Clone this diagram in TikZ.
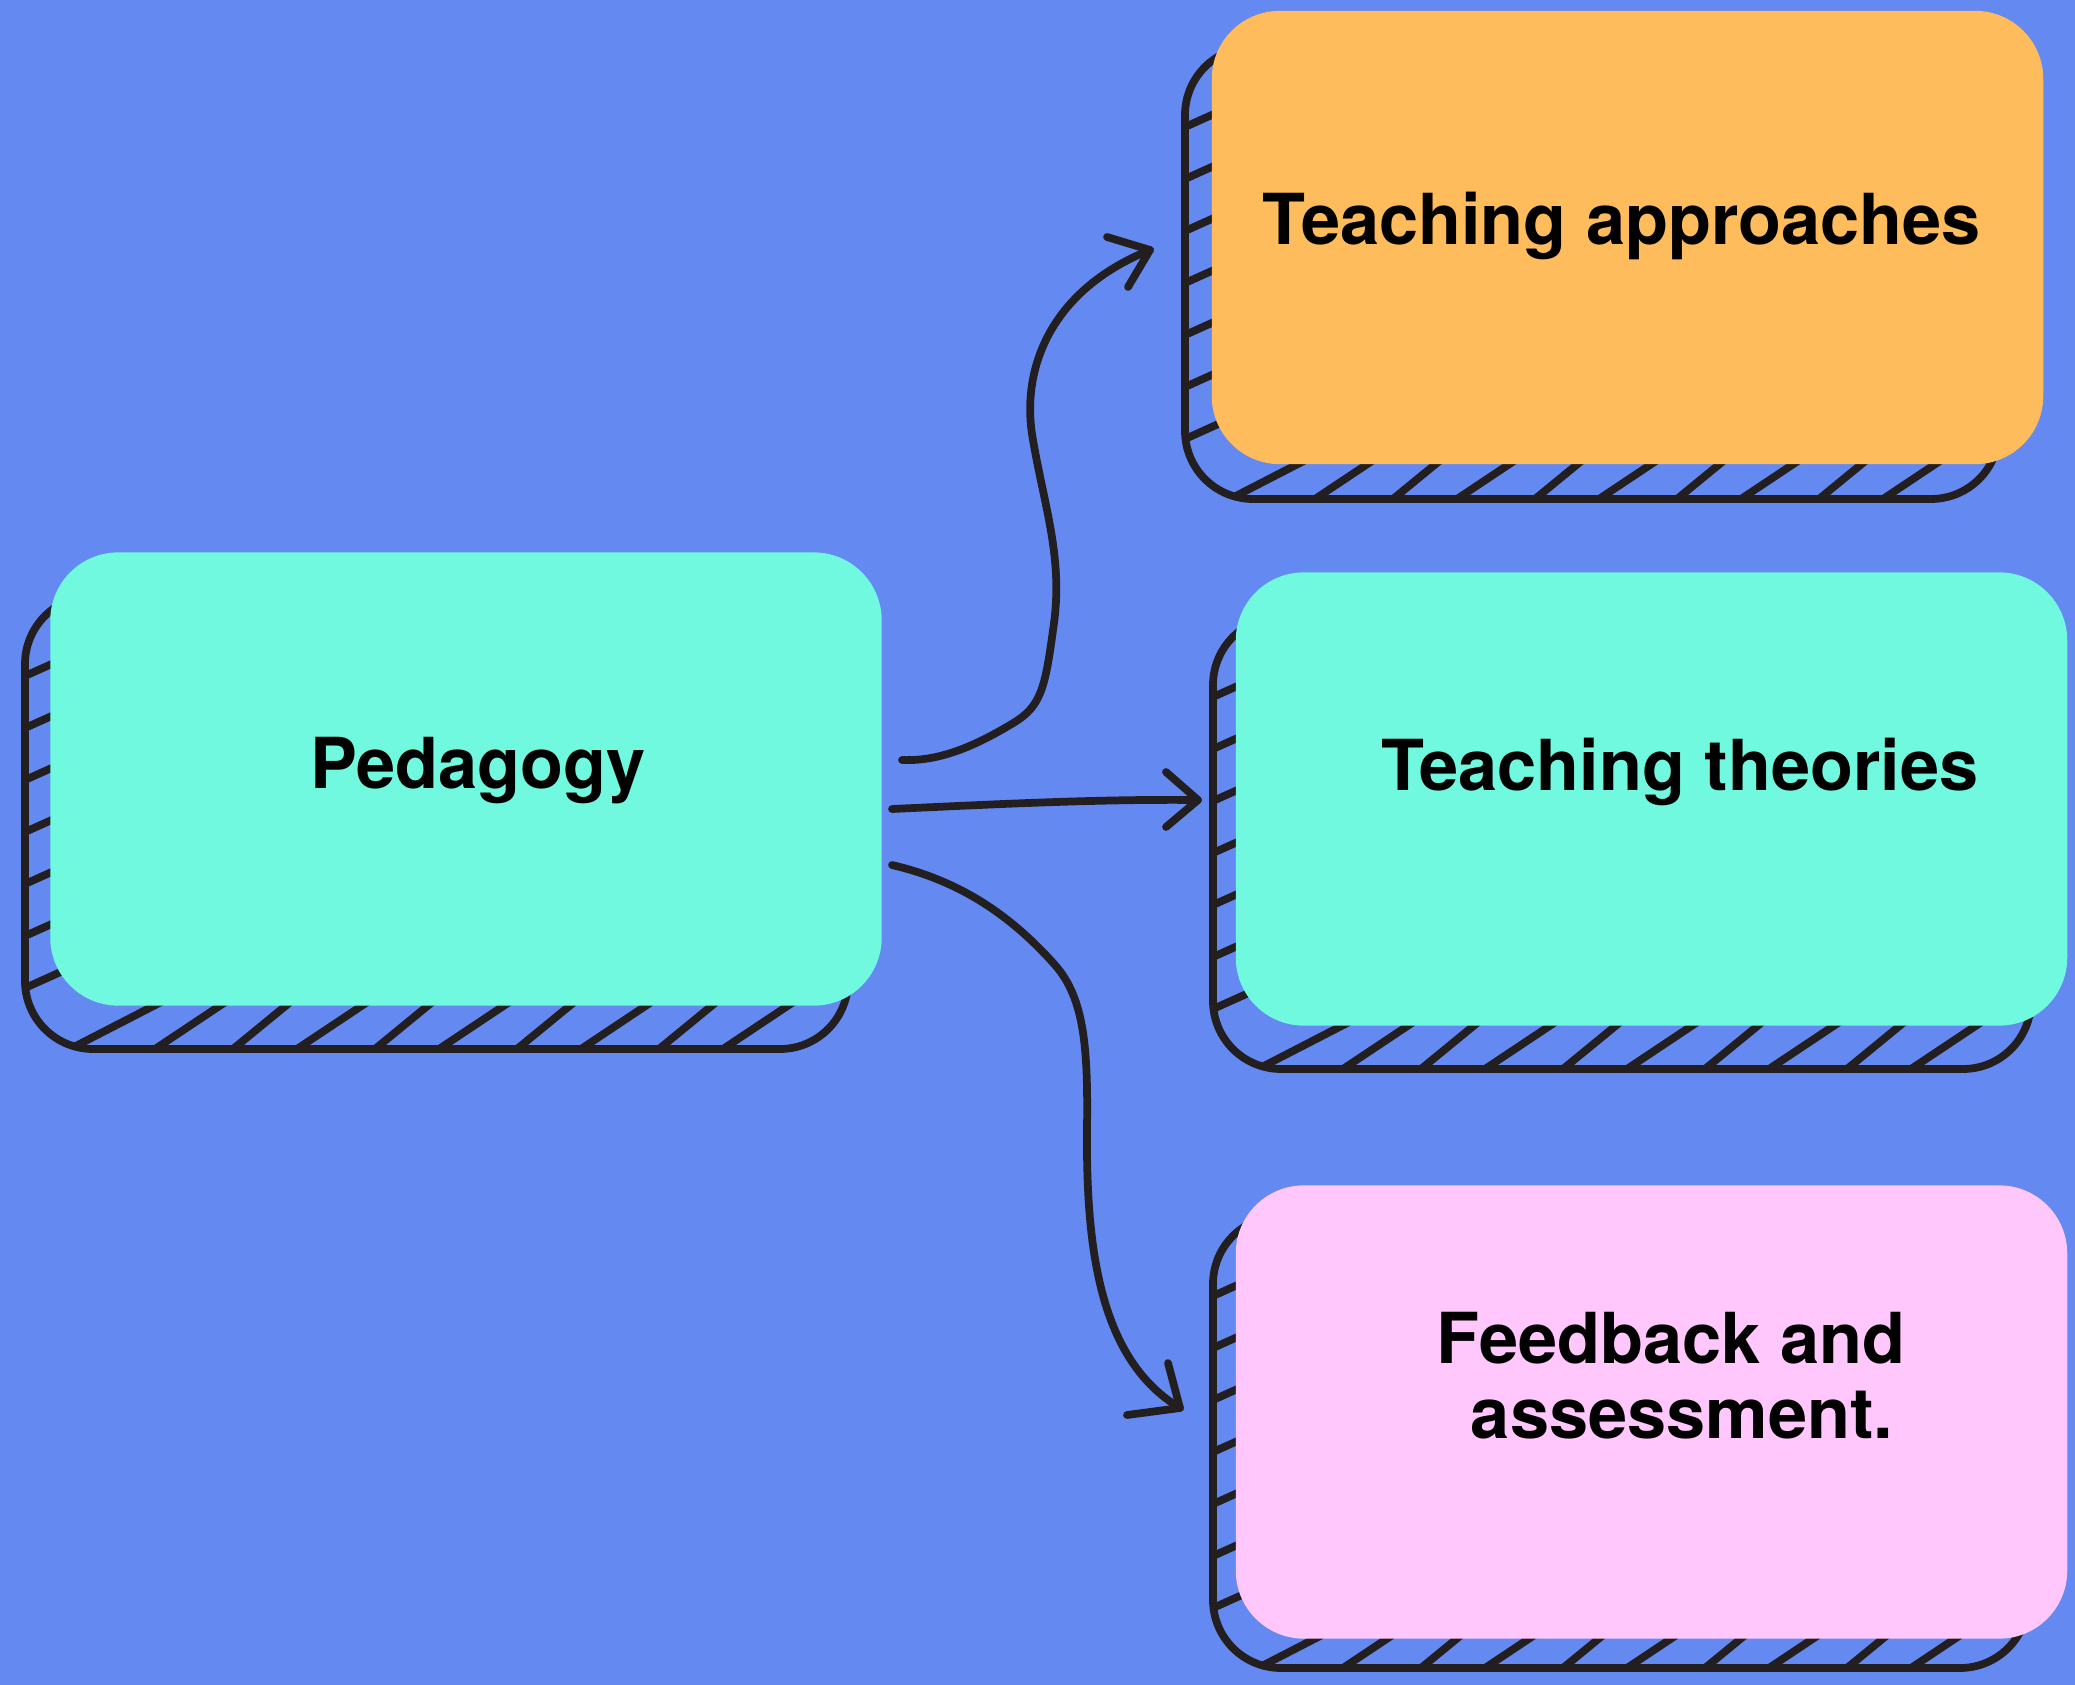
\documentclass[tikz,border=0pt]{standalone}
\usepackage{fontspec}
\setmainfont{TeX Gyre Heros}
\definecolor{bg}{HTML}{6489F0}
\definecolor{ink}{HTML}{231F20}
\definecolor{teal}{HTML}{70F9DF}
\definecolor{orng}{HTML}{FFBC5C}
\definecolor{pinkc}{HTML}{FFC7FC}
\newcommand\hatchshadow[6]{%
  \begin{scope}
    \clip[rounded corners=0.68cm] (#1,#2) rectangle (#3,#4);
    \foreach \i in {0,...,6}{
      \pgfmathsetmacro\yy{#2+80+52*\i}
      \draw[ink, line cap=butt] ({#1-10},{\yy+4.5}) -- ({#5+30},{\yy-0.45*(#5+30-#1)});
    }
    \foreach \p/\r in {45/1.94,130/1.5,208/1.22,272/1.5,350/1.22,414/1.5,492/1.22,556/1.5,634/1.22,698/1.5}{
      \draw[ink, line cap=butt] ({#1+\p-\r*10},{#4+10}) -- ({#1+\p+\r*(#4-#6+15)},{#6-15});
    }
  \end{scope}
  \draw[ink, rounded corners=0.68cm] (#1,#2) rectangle (#3,#4);
}
\begin{document}
\begin{tikzpicture}[x=0.01cm,y=-0.01cm,
  ink/.style={draw=ink, line width=2.2pt, line cap=round, line join=round},
  front/.style={rectangle, rounded corners=0.68cm, minimum width=8.31cm, minimum height=4.53cm, inner sep=0pt, draw=none},
  lbl/.style={font=\fontsize{20pt}{21.3pt}\selectfont\bfseries, text=black, inner sep=0pt, anchor=base}]
  \fill[bg] (0,0) rectangle (2075,1685);
  \useasboundingbox (0,0) rectangle (2075,1685);

  % Pedagogy
  \hatchshadow{25}{596}{848}{1049}{51}{1006}
  \node[front, fill=teal] (ped) at (466,779) {};
  \node[lbl] (pedT) at (478,788) {Pedagogy};

  % Teaching approaches
  \hatchshadow{1185}{47}{1999}{499}{1212}{464}
  \node[front, fill=orng] (appr) at (1627.5,237.5) {};
  \node[lbl] (apprT) at (1622,245) {Teaching approaches};

  % Teaching theories
  \hatchshadow{1213}{617}{2031}{1069}{1236}{1026}
  \node[front, fill=teal] (theo) at (1651.5,799) {};
  \node[lbl] (theoT) at (1680,790) {Teaching theories};

  % Feedback and assessment
  \hatchshadow{1213}{1216}{2028}{1668}{1236}{1638}
  \node[front, fill=pinkc] (feed) at (1651.5,1412) {};
  \node[lbl] (feedT1) at (1671,1363) {Feedback and};
  \node[lbl] (feedT2) at (1682,1438) {assessment.};

  % connectors
  \coordinate (s1) at (902,760);
  \coordinate (t1) at (1150,250);
  \coordinate (s2) at (892,809);
  \coordinate (t2) at (1198,800);
  \coordinate (s3) at (892,865);
  \coordinate (t3) at (1180,1408);

  \draw[ink] (s1) .. controls (945,762) and (985,740) .. (1015,722)
                  .. controls (1040,706) and (1045,690) .. (1053,630)
                  .. controls (1064,560) and (1045,510) .. (1033,440)
                  .. controls (1020,370) and (1050,290) .. (t1);
  \draw[ink] (1107,237) -- (t1) -- (1128,287);

  \draw[ink] (s2) .. controls (1000,804) and (1100,799) .. (t2);
  \draw[ink] (1166,772) -- (t2) -- (1166,827);

  \draw[ink] (s3) .. controls (965,882) and (1015,920) .. (1055,965)
                  .. controls (1085,999) and (1088,1050) .. (1087,1130)
                  .. controls (1086,1250) and (1100,1360) .. (t3);
  \draw[ink] (1168,1363) -- (t3) -- (1127,1415);
\end{tikzpicture}
\end{document}
